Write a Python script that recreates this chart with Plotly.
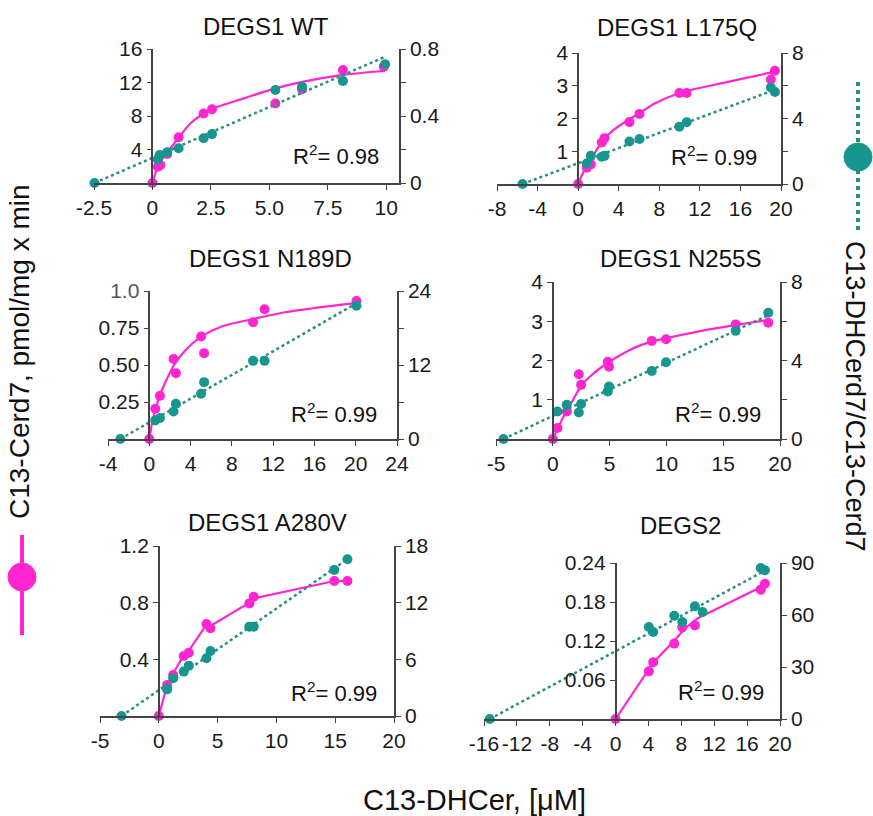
import plotly.graph_objects as go

W, H = 873, 816
MAGENTA = "#ff26d2"
TEAL = "#16968f"
TEAL_LINE = "#2a8f7a"
AXIS = "#444444"
FONT = "Liberation Sans, Arial, sans-serif"

# ---------------- data ----------------
titles = ["DEGS1 WT", "DEGS1 L175Q", "DEGS1 N189D", "DEGS1 N255S", "DEGS1 A280V", "DEGS2"]
r2_labels = ["0.98", "0.99", "0.99", "0.99", "0.99", "0.99"]

# DEGS1 WT
wt_x = [0, 0.23, 0.34, 0.63, 1.12, 2.19, 2.55, 5.26, 6.4, 8.15, 9.9]
wt_cer = [0, 1.95, 2.15, 3.46, 5.45, 8.3, 8.8, 9.5, 11.2, 13.5, 13.9]
wt_ratio_x = [-2.48, 0.23, 0.31, 0.63, 1.12, 2.19, 2.55, 5.26, 6.4, 8.15, 9.96]
wt_ratio = [0, 0.141, 0.167, 0.183, 0.207, 0.267, 0.292, 0.555, 0.575, 0.609, 0.709]
wt_fit_x = [0, 0.28, 0.63, 1.12, 1.62, 2.19, 2.6, 3.9, 5.26, 6.47, 8.15, 9.96]
wt_fit_y = [0, 2.3, 3.6, 5.4, 7.1, 8.3, 8.9, 10.1, 11.3, 12.1, 12.9, 13.4]
wt_line_x = [-2.48, 9.96]
wt_line_y = [0, 0.754]

# DEGS1 L175Q
l175q_x = [0, 0.85, 1.25, 2.33, 2.6, 5.06, 6.05, 9.98, 10.7, 19.0, 19.4]
l175q_cer = [0, 0.5, 0.6, 1.27, 1.4, 1.89, 2.14, 2.78, 2.78, 3.19, 3.46]
l175q_ratio_x = [-5.48, 0.85, 1.25, 2.33, 2.6, 5.06, 6.05, 9.98, 10.7, 19.0, 19.4]
l175q_ratio = [0, 1.25, 1.72, 1.66, 1.72, 2.6, 2.75, 3.5, 3.77, 5.89, 5.62]
l175q_fit_x = [0, 0.5, 1, 1.5, 2.5, 3.5, 5, 6, 7.5, 10, 13, 16, 19.4]
l175q_fit_y = [0, 0.35, 0.62, 0.88, 1.35, 1.65, 1.97, 2.15, 2.45, 2.78, 3.0, 3.2, 3.43]
l175q_line_x = [-5.48, 19.4]
l175q_line_y = [0, 5.76]

# DEGS1 N189D
n189d_x = [0, 0.58, 1.03, 2.35, 2.58, 5.02, 5.31, 10.05, 11.17, 20.07]
n189d_cer = [0, 0.204, 0.292, 0.541, 0.445, 0.692, 0.58, 0.789, 0.877, 0.933]
n189d_ratio_x = [-2.8, 0.58, 1.03, 2.35, 2.58, 5.02, 5.31, 10.05, 11.17, 20.07]
n189d_ratio = [0, 3.02, 3.4, 4.47, 5.71, 7.33, 9.22, 12.67, 12.67, 21.6]
n189d_fit_x = [0, 0.3, 0.6, 1, 1.6, 2.4, 3.5, 5, 7, 10, 13, 16, 20.07]
n189d_fit_y = [0, 0.12, 0.2, 0.29, 0.39, 0.5, 0.6, 0.69, 0.76, 0.81, 0.855, 0.885, 0.92]
n189d_line_x = [-2.8, 20.07]
n189d_line_y = [0, 22.0]

# DEGS1 N255S
n255s_x = [0, 0.41, 1.23, 2.29, 2.49, 4.84, 4.95, 8.71, 9.97, 16.1, 18.97]
n255s_cer = [0, 0.28, 0.7, 1.65, 1.38, 1.97, 1.84, 2.5, 2.54, 2.92, 2.96]
n255s_ratio_x = [-4.34, 0.41, 1.23, 2.29, 2.49, 4.84, 4.95, 8.71, 9.97, 16.1, 18.97]
n255s_ratio = [0, 1.4, 1.74, 1.35, 1.78, 2.42, 2.67, 3.47, 3.91, 5.51, 6.43]
n255s_fit_x = [0, 0.4, 1, 1.6, 2.5, 3.5, 4.9, 7, 8.7, 10, 13, 16, 18.97]
n255s_fit_y = [0, 0.25, 0.6, 0.9, 1.35, 1.65, 1.95, 2.3, 2.48, 2.57, 2.75, 2.9, 3.03]
n255s_line_x = [-4.34, 18.97]
n255s_line_y = [0, 6.31]

# DEGS1 A280V
a280v_x = [0, 0.71, 1.22, 2.12, 2.55, 4.05, 4.39, 7.7, 8.07, 14.92, 16.04]
a280v_cer = [0, 0.219, 0.289, 0.423, 0.447, 0.649, 0.619, 0.795, 0.842, 0.953, 0.953]
a280v_ratio_x = [-3.17, 0.71, 1.22, 2.12, 2.55, 4.05, 4.39, 7.7, 8.07, 14.92, 16.04]
a280v_ratio = [0, 2.82, 3.99, 4.7, 5.33, 6.11, 6.89, 9.46, 9.46, 15.47, 16.6]
a280v_fit_x = [0, 0.71, 1.22, 2.12, 2.55, 4.05, 4.39, 7.7, 8.07, 14.92, 16.04]
a280v_fit_y = [0, 0.22, 0.3, 0.43, 0.46, 0.645, 0.635, 0.8, 0.83, 0.953, 0.953]
a280v_line_x = [-3.17, 16.04]
a280v_line_y = [0, 16.6]

# DEGS2
degs2_x = [0, 4.05, 4.58, 7.14, 8.11, 9.65, 17.65, 18.17]
degs2_cer = [0, 0.0733, 0.0872, 0.116, 0.141, 0.144, 0.199, 0.208]
degs2_ratio_x = [-15.3, 4.05, 4.58, 7.14, 8.11, 9.65, 10.58, 17.65, 18.17]
degs2_ratio = [0, 53.1, 50.2, 59.6, 56.0, 65.0, 61.7, 87.1, 85.8]
degs2_fit_x = [0, 4.3, 4.6, 7.1, 8.5, 10, 14, 18.17]
degs2_fit_y = [0, 0.08, 0.087, 0.12, 0.14, 0.155, 0.18, 0.206]
degs2_line_x = [-15.3, 18.17]
degs2_line_y = [0, 85.6]

# axis ticks
x_ranges = [[-2.5, 10.55], [-8, 20], [-4, 24], [-5, 20], [-5, 20], [-16, 20]]
x_ticks = [[-2.5, 0, 2.5, 5, 7.5, 10], [-8, -4, 0, 4, 8, 12, 16, 20],
           [-4, 0, 4, 8, 12, 16, 20, 24], [-5, 0, 5, 10, 15, 20],
           [-5, 0, 5, 10, 15, 20], [-16, -12, -8, -4, 0, 4, 8, 12, 16, 20]]
x_ticktext = [["-2.5", "0", "2.5", "5.0", "7.5", "10"],
              ["-8", "-4", "0", "4", "8", "12", "16", "20"],
              ["-4", "0", "4", "8", "12", "16", "20", "24"],
              ["-5", "0", "5", "10", "15", "20"],
              ["-5", "0", "5", "10", "15", "20"],
              ["-16", "-12", "-8", "-4", "0", "4", "8", "12", "16", "20"]]
left_ranges = [16, 4, 1.0, 4, 1.2, 0.24]
left_ticks = [[4, 8, 12, 16], [1, 2, 3, 4], [0.25, 0.5, 0.75, 1.0],
              [1, 2, 3, 4], [0.4, 0.8, 1.2], [0.06, 0.12, 0.18, 0.24]]
left_ticktext = [["4", "8", "12", "16"], ["1", "2", "3", "4"],
                 ["0.25", "0.50", "0.75", "<span style='color:#555'>1.0</span>"],
                 ["1", "2", "3", "4"], ["0.4", "0.8", "1.2"],
                 ["0.06", "0.12", "0.18", "0.24"]]
right_ranges = [0.8, 8, 24, 8, 18, 90]
right_ticks = [[0, 0.4, 0.8], [0, 4, 8], [0, 12, 24], [0, 4, 8], [0, 6, 12, 18], [0, 30, 60, 90]]
right_ticktext = [["0", "0.4", "0.8"], None, None, None, None, None]
right_minor = [0.2, 2, 6, 2, None, None]

# panel boxes in pixels: (x_left, x_right, y_bottom, y_top)
boxes = [(94, 399, 183, 49), (497, 781, 184, 53), (108, 397, 439, 291),
         (496, 780, 439, 282), (100, 394, 716, 546), (484, 780, 719, 563)]
title_pos = [(266, 26), (677, 28), (270, 258), (680, 258), (267, 522), (680, 525)]
r2_pos = [(381, 155), (759, 156), (379, 413), (763, 413), (379, 692), (766, 691)]

panels = [
    (wt_x, wt_cer, wt_ratio_x, wt_ratio, wt_fit_x, wt_fit_y, wt_line_x, wt_line_y, "spline"),
    (l175q_x, l175q_cer, l175q_ratio_x, l175q_ratio, l175q_fit_x, l175q_fit_y, l175q_line_x, l175q_line_y, "spline"),
    (n189d_x, n189d_cer, n189d_ratio_x, n189d_ratio, n189d_fit_x, n189d_fit_y, n189d_line_x, n189d_line_y, "spline"),
    (n255s_x, n255s_cer, n255s_ratio_x, n255s_ratio, n255s_fit_x, n255s_fit_y, n255s_line_x, n255s_line_y, "spline"),
    (a280v_x, a280v_cer, a280v_ratio_x, a280v_ratio, a280v_fit_x, a280v_fit_y, a280v_line_x, a280v_line_y, "linear"),
    (degs2_x, degs2_cer, degs2_ratio_x, degs2_ratio, degs2_fit_x, degs2_fit_y, degs2_line_x, degs2_line_y, "linear"),
]

TICKFONT = dict(size=21, color="#1a1a1a")

fig = go.Figure()
layout = dict(width=W, height=H, margin=dict(l=0, r=0, t=0, b=0, autoexpand=False),
              paper_bgcolor="white", plot_bgcolor="rgba(0,0,0,0)", template="none",
              showlegend=False, font=dict(family=FONT, size=20, color="#222"))
annotations = []


def px(x):
    return x / W


def py(y):
    return 1 - y / H


for k, p in enumerate(panels):
    n = k + 1
    xs, cer, rx, ratio, fx, fy, lx, ly, shape = p
    xname = "x" if n == 1 else f"x{n}"
    yl = 2 * n - 1
    yr = 2 * n
    ylname = "y" if yl == 1 else f"y{yl}"
    yrname = f"y{yr}"
    xl, xr, yb, yt = boxes[k]
    xr0, xr1 = x_ranges[k]
    zero_px = xl + (0 - xr0) / (xr1 - xr0) * (xr - xl)

    # magenta fit + points (left axis)
    fig.add_trace(go.Scatter(x=fx, y=fy, mode="lines", xaxis=xname, yaxis=ylname,
                             line=dict(color=MAGENTA, width=2.2, shape=shape, smoothing=0.8),
                             cliponaxis=False, hoverinfo="skip"))
    fig.add_trace(go.Scatter(x=xs, y=cer, mode="markers", xaxis=xname, yaxis=ylname,
                             marker=dict(color=MAGENTA, size=10), cliponaxis=False))
    # teal dotted line + points (right axis)
    fig.add_trace(go.Scatter(x=lx, y=ly, mode="lines", xaxis=xname, yaxis=yrname,
                             line=dict(color=TEAL_LINE, width=2.5, dash="dot"),
                             cliponaxis=False, hoverinfo="skip"))
    fig.add_trace(go.Scatter(x=rx, y=ratio, mode="markers", xaxis=xname, yaxis=yrname,
                             marker=dict(color=TEAL, size=10), cliponaxis=False))

    xkey = "xaxis" if n == 1 else f"xaxis{n}"
    ylkey = "yaxis" if yl == 1 else f"yaxis{yl}"
    yrkey = f"yaxis{yr}"
    layout[xkey] = dict(domain=[px(xl), px(xr)], range=[xr0, xr1], anchor=ylname,
                        tickmode="array", tickvals=x_ticks[k], ticktext=x_ticktext[k],
                        ticks="outside", ticklen=5, tickangle=0, automargin=False,
                        tickcolor=AXIS, showline=True, linecolor=AXIS, linewidth=1.5,
                        showgrid=False, zeroline=False, tickfont=TICKFONT)
    layout[ylkey] = dict(domain=[py(yb), py(yt)], range=[0, left_ranges[k]],
                         anchor="free", position=px(zero_px), side="left",
                         tickmode="array", tickvals=left_ticks[k], ticktext=left_ticktext[k],
                         ticks="outside", ticklen=5, tickcolor=AXIS, showline=True,
                         linecolor=AXIS, linewidth=1.5, showgrid=False, zeroline=False,
                         automargin=False, tickfont=TICKFONT)
    ya = dict(domain=[py(yb), py(yt)], range=[0, right_ranges[k]], overlaying=ylname,
              anchor=xname, side="right", tickmode="array", tickvals=right_ticks[k],
              ticks="outside", ticklen=5, tickcolor=AXIS, showline=True,
              linecolor=AXIS, linewidth=1.5, showgrid=False, zeroline=False,
              automargin=False, tickfont=TICKFONT)
    if right_ticktext[k]:
        ya["ticktext"] = right_ticktext[k]
    if right_minor[k]:
        ya["minor"] = dict(dtick=right_minor[k], tick0=0, ticks="outside", ticklen=5,
                           tickcolor=AXIS, showgrid=False)
    layout[yrkey] = ya

    tx, ty = title_pos[k]
    annotations.append(dict(text=titles[k], x=px(tx), y=py(ty), xref="paper", yref="paper",
                            showarrow=False, font=dict(size=24, color="#111"),
                            xanchor="center", yanchor="middle"))
    rx_, ry_ = r2_pos[k]
    annotations.append(dict(text="R<sup>2</sup>= " + r2_labels[k], x=px(rx_), y=py(ry_),
                            xref="paper", yref="paper", showarrow=False,
                            font=dict(size=22, color="#111"), xanchor="right", yanchor="middle"))

annotations.append(dict(text="C13-Cerd7, pmol/mg x min", x=px(19), y=py(352), xref="paper",
                        yref="paper", showarrow=False, textangle=-90,
                        font=dict(size=28, color="#111"), xanchor="center", yanchor="middle"))
annotations.append(dict(text="C13-DHCerd7/C13-Cerd7", x=px(855), y=py(396), xref="paper",
                        yref="paper", showarrow=False, textangle=90,
                        font=dict(size=27, color="#111"), xanchor="center", yanchor="middle"))
annotations.append(dict(text="C13-DHCer, [\u03bcM]", x=px(475), y=py(800), xref="paper",
                        yref="paper", showarrow=False, font=dict(size=29, color="#111"),
                        xanchor="center", yanchor="middle"))
layout["annotations"] = annotations

shapes = [
    dict(type="line", xref="paper", yref="paper", x0=px(22), x1=px(22), y0=py(535), y1=py(635),
         line=dict(color=MAGENTA, width=4)),
    dict(type="circle", xref="paper", yref="paper", x0=px(8), x1=px(36), y0=py(563), y1=py(591),
         fillcolor=MAGENTA, line=dict(color=MAGENTA, width=1)),
    dict(type="line", xref="paper", yref="paper", x0=px(858), x1=px(858), y0=py(82), y1=py(232),
         line=dict(color=TEAL_LINE, width=4, dash="dot")),
    dict(type="circle", xref="paper", yref="paper", x0=px(844), x1=px(872), y0=py(143), y1=py(171),
         fillcolor=TEAL, line=dict(color=TEAL, width=1)),
]
layout["shapes"] = shapes
fig.update_layout(**layout)
fig.write_html("out.html", config={"displayModeBar": False},
               post_script="document.body.style.margin='0px';document.body.style.overflow='hidden';")
